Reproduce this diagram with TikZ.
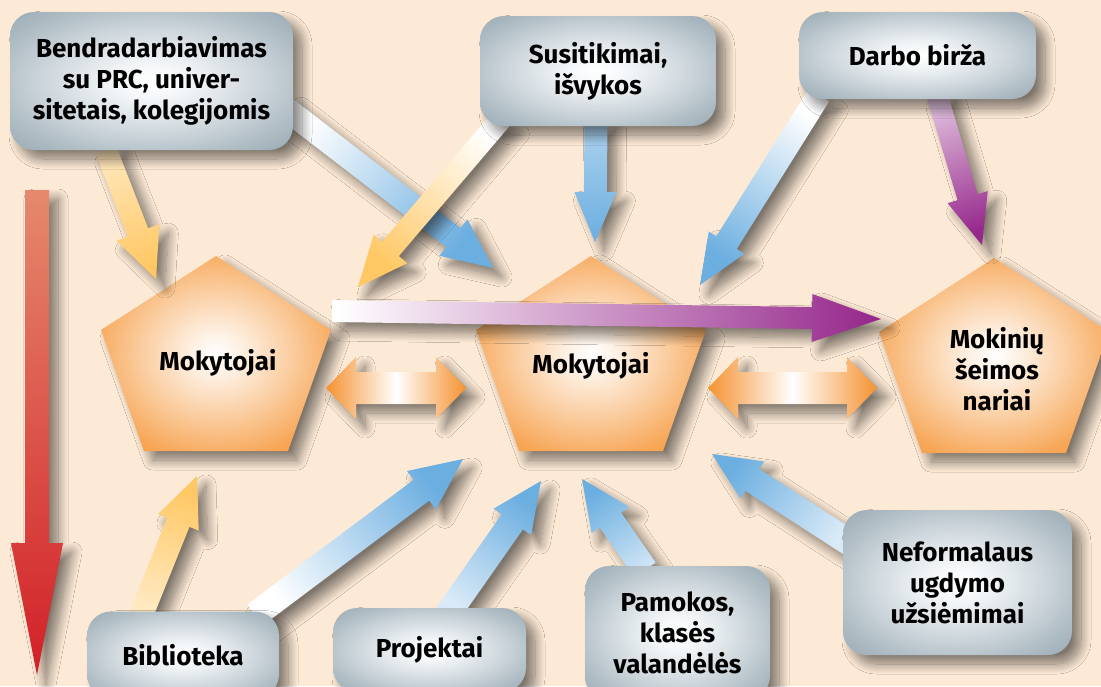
\documentclass[tikz,border=0pt]{standalone}
\usepackage{fontspec}
\setmainfont{Fira Sans}
\usetikzlibrary{calc,shadows.blur}

\definecolor{peach}{RGB}{253,234,214}
\definecolor{orng}{RGB}{245,146,48}
\definecolor{boxin}{RGB}{244,247,249}
\definecolor{boxout}{RGB}{152,169,179}
\definecolor{bluetip}{RGB}{107,174,224}
\definecolor{yeltip}{RGB}{255,200,100}
\definecolor{purptip}{RGB}{150,40,140}
\definecolor{redtop}{RGB}{229,137,108}
\definecolor{redbot}{RGB}{210,32,40}

\pgfdeclareradialshading{pentaglow}{\pgfpoint{0bp}{0bp}}{%
  color(0bp)=(white); color(6bp)=(orng!15!white); color(16bp)=(orng!45!white);
  color(27bp)=(orng!80!white); color(36bp)=(orng); color(50bp)=(orng)}
\pgfdeclareradialshading{boxglow}{\pgfpoint{0bp}{0bp}}{%
  color(0bp)=(white); color(6bp)=(boxin); color(17bp)=(boxout!35!boxin);
  color(28bp)=(boxout!75!boxin); color(36bp)=(boxout); color(50bp)=(boxout)}

\newcommand{\labelfont}{\fontsize{26}{31}\selectfont\bfseries}

\tikzset{
  softshadow/.style={blur shadow={shadow xshift=9pt,shadow yshift=-9pt,shadow blur radius=10pt,shadow blur steps=14,shadow opacity=50}},
  infobox/.style={rounded corners=24pt,shade,shading=boxglow,inner sep=0pt,align=center,font=\labelfont,softshadow},
  pentashade/.style={shading=pentaglow,softshadow},
  pentatext/.style={font=\labelfont,align=center,inner sep=0pt},
}

% tail, tip, half shaft, half head, head length, tail colour, tip colour
\newcommand{\fatarrow}[7]{%
  \path let \p1=(#1), \p2=(#2), \n1={atan2((\y2)-(\y1),(\x2)-(\x1))+90} in \pgfextra{\xdef\arrang{\n1}};
  \coordinate (hb) at ($(#2)!#5!(#1)$);
  \shade[softshadow,left color=#6,right color=#7,shading angle=\arrang]
    ($(#1)!#3!90:(#2)$) -- ($(hb)!#3!-90:(#1)$) -- ($(hb)!#4!-90:(#1)$) -- (#2)
    -- ($(hb)!#4!90:(#1)$) -- ($(hb)!#3!90:(#1)$) -- ($(#1)!#3!-90:(#2)$) -- cycle;
}
% two heads, left end, right end
\newcommand{\dblarrow}[2]{%
  \shade[softshadow,left color=orng,right color=orng,middle color=white]
    let \p1=(#1), \p2=(#2) in
    (\p1) -- (\x1+30pt,\y1+31pt) -- (\x1+30pt,\y1+16pt) -- (\x2-30pt,\y2+16pt) -- (\x2-30pt,\y2+31pt)
    -- (\p2) -- (\x2-30pt,\y2-31pt) -- (\x2-30pt,\y2-16pt) -- (\x1+30pt,\y1-16pt) -- (\x1+30pt,\y1-31pt) -- cycle;
}

\begin{document}
\begin{tikzpicture}[x=1pt,y=-1pt]
\useasboundingbox (0,0) rectangle (1101,686);
\clip (0,0) rectangle (1101,686);
\fill[peach] (0,0) rectangle (1101,686);

% time arrow
\coordinate (ro1) at (37,190);
\coordinate (ro2) at (37,675);
\fatarrow{ro1}{ro2}{12pt}{26pt}{132pt}{redtop}{redbot}

% pentagons
\coordinate (lapex) at (216,256);
\coordinate (capex) at (591,256);
\coordinate (rapex) at (994,258);
\foreach\p in {lapex,capex,rapex}{
  \shade[pentashade] (\p) -- ++(115,74) -- ++(-43,121) -- ++(-144,0) -- ++(-43,-121) -- cycle;}

% arrow ends
\coordinate (ya1) at (106,150);  \coordinate (ya2) at (156,279);
\coordinate (bb1) at (285,108);  \coordinate (bb2) at (493,268);
\coordinate (yc1) at (502,118);  \coordinate (yc2) at (358,287);
\coordinate (bd1) at (596,120);  \coordinate (bd2) at (595,242);
\coordinate (be1) at (819,95);   \coordinate (be2) at (700,285);
\coordinate (pf1) at (937,95);   \coordinate (pf2) at (982,245);
\coordinate (pg1) at (332,311);  \coordinate (pg2) at (881,319);
\coordinate (yj1) at (141,615);  \coordinate (yj2) at (197,476);
\coordinate (bk1) at (255,615);  \coordinate (bk2) at (463,459);
\coordinate (bl1) at (447,615);  \coordinate (bl2) at (541,481);
\coordinate (bm1) at (645,570);  \coordinate (bm2) at (582,479);
\coordinate (bn1) at (850,543);  \coordinate (bn2) at (712,454);
\coordinate (dl1) at (326,388);  \coordinate (dl2) at (466,388);
\coordinate (dr1) at (708,388);  \coordinate (dr2) at (877,388);

\fatarrow{ya1}{ya2}{11pt}{23pt}{50pt}{yeltip!45!white}{yeltip}
\fatarrow{bb1}{bb2}{12pt}{23pt}{50pt}{white}{bluetip}
\fatarrow{yc1}{yc2}{11pt}{22pt}{50pt}{white}{yeltip}
\fatarrow{bd1}{bd2}{11.5pt}{21pt}{50pt}{bluetip!55!white}{bluetip}
\fatarrow{be1}{be2}{12pt}{21pt}{50pt}{white}{bluetip}
\fatarrow{pf1}{pf2}{10.5pt}{21pt}{50pt}{purptip!30!white}{purptip}
\fatarrow{yj1}{yj2}{12pt}{22pt}{50pt}{yeltip!40!white}{yeltip}
\fatarrow{bk1}{bk2}{13pt}{24pt}{52pt}{white}{bluetip}
\fatarrow{bl1}{bl2}{13pt}{23pt}{50pt}{bluetip!25!white}{bluetip}
\fatarrow{bm1}{bm2}{13pt}{23pt}{50pt}{bluetip!35!white}{bluetip}
\fatarrow{bn1}{bn2}{13pt}{22pt}{48pt}{bluetip!25!white}{bluetip}
\dblarrow{dl1}{dl2}
\dblarrow{dr1}{dr2}
\fatarrow{pg1}{pg2}{11pt}{24pt}{69pt}{white}{purptip}

% boxes
\node[infobox,minimum width=283pt,minimum height=138pt] (bendr) at (151.5,81)
  {Bendradarbiavimas\\su PRC, univer-\\sitetais, kolegijomis};
\node[infobox,minimum width=236pt,minimum height=110pt] (susit) at (598,71) {Susitikimai,\\išvykos};
\node[infobox,minimum width=237pt,minimum height=87pt] (darbo) at (917.5,55.5) {Darbo birža};
\node[infobox,minimum width=192pt,minimum height=87pt] (biblio) at (183,655) {Biblioteka};
\node[infobox,minimum width=193pt,minimum height=84pt] (projekt) at (429.5,650) {Projektai};
\node[infobox,minimum width=185pt,minimum height=134pt] (pamok) at (677.5,633) {Pamokos,\\klasės\\valandėlės};
\node[infobox,minimum width=229pt,minimum height=145pt] (neform) at (957.5,582.5) {Neformalaus\\ugdymo\\užsiėmimai};

% pentagon labels
\node[pentatext] (mokl) at (218,363) {Mokytojai};
\node[pentatext] (mokc) at (591,366) {Mokytojai};
\node[pentatext] (seima) at (997,369) {Mokinių\\šeimos\\nariai};
\end{tikzpicture}
\end{document}
